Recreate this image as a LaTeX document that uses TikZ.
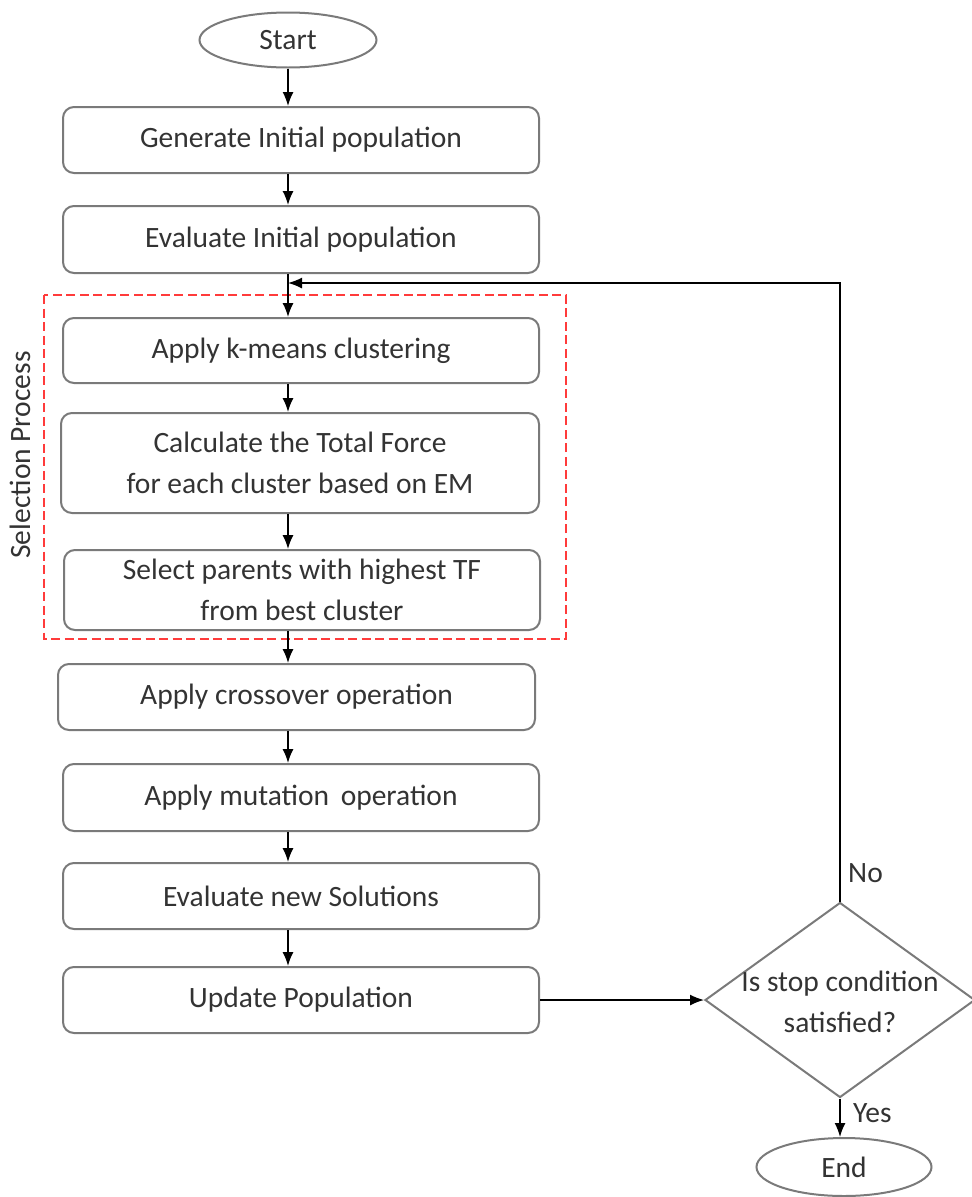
\documentclass[tikz,border=0pt]{standalone}
\usepackage{fontspec}
\setmainfont{Carlito}
\usetikzlibrary{shapes.geometric,arrows.meta}
\definecolor{boxgray}{HTML}{7A7A7A}
\definecolor{txtgray}{HTML}{333333}
\definecolor{selred}{HTML}{FF3B3B}
\tikzset{
  procbox/.style={draw=boxgray, line width=2pt, rounded corners=11pt, minimum width=476pt, minimum height=66pt, inner sep=0pt, align=center, text=txtgray, font=\fontsize{29.5}{41}\selectfont},
  termnode/.style={draw=boxgray, line width=2pt, ellipse, inner sep=0pt, text=txtgray, font=\fontsize{29.5}{34}\selectfont},
  decnode/.style={draw=boxgray, line width=2pt, diamond, minimum width=270pt, minimum height=195pt, inner sep=0pt},
  plaintext/.style={text=txtgray, inner sep=0pt, align=center, font=\fontsize{29.5}{41}\selectfont},
  arr/.style={draw=black, line width=1.5pt, -{Latex[length=14pt,width=11pt]}},
  selbox/.style={draw=selred, line width=2.5pt, dash pattern=on 9pt off 4.5pt}
}
\begin{document}
\begin{tikzpicture}[x=1pt,y=-1pt]
\useasboundingbox (0,0) rectangle (972,1197);
% selection region
\draw[selbox] (44,295) rectangle (566,639);
\node[plaintext, rotate=90] (sellabel) at (20,455) {Selection Process};
% nodes
\node[termnode, minimum width=177pt, minimum height=55pt] (start) at (288,40) {Start};
\node[procbox] (gen) at (301,140) {Generate Initial population};
\node[procbox, minimum height=67pt] (evi) at (301,239.5) {Evaluate Initial population};
\node[procbox, minimum height=65pt] (km) at (301,350.5) {Apply k-means clustering};
\node[procbox, minimum width=478pt, minimum height=100pt] (calc) at (300,463) {Calculate the Total Force\\for each cluster based on EM};
\node[procbox, minimum height=80pt] (sel) at (302,590) {Select parents with highest TF\\from best cluster};
\node[procbox, minimum width=477pt] (cross) at (296.5,697) {Apply crossover operation};
\node[procbox, minimum height=67pt] (mut) at (301,797.5) {Apply mutation\, operation};
\node[procbox] (evn) at (301,896) {Evaluate new Solutions};
\node[procbox] (upd) at (301,1000) {Update Population};
\node[decnode] (dec) at (840,1000) {};
\node[plaintext] (dectext) at (840,1002) {Is stop condition\\satisfied?};
\node[termnode, minimum width=175pt, minimum height=58pt] (end) at (844,1167) {End};
% flow column
\coordinate (ax) at (288,0);
\coordinate (mrg) at (288,283);
\draw[arr] (start.south) -- (start.south |- gen.north);
\draw[arr] (gen.south -| ax) -- (evi.north -| ax);
\draw[arr] (evi.south -| ax) -- (km.north -| ax);
\draw[arr] (km.south -| ax) -- (calc.north -| ax);
\draw[arr] (calc.south -| ax) -- (sel.north -| ax);
\draw[arr] (sel.south -| ax) -- (cross.north -| ax);
\draw[arr] (cross.south -| ax) -- (mut.north -| ax);
\draw[arr] (mut.south -| ax) -- (evn.north -| ax);
\draw[arr] (evn.south -| ax) -- (upd.north -| ax);
\draw[arr] (upd.east) -- (dec.west);
\draw[arr] (dec.south) -- (dec.south |- end.north);
\draw[arr] (dec.north) |- (mrg);
% labels
\node[plaintext, anchor=west] (nolab) at (848,873) {No};
\node[plaintext, anchor=west] (yeslab) at (853,1113) {Yes};
\end{tikzpicture}
\end{document}
